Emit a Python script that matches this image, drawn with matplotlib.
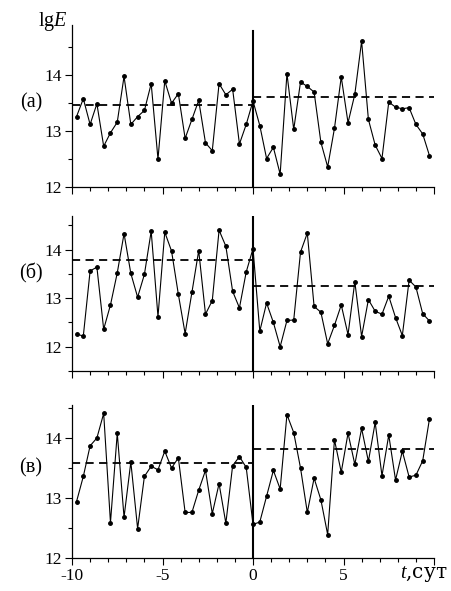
import numpy as np
import matplotlib
matplotlib.use('Agg')
import matplotlib.pyplot as plt
from matplotlib.ticker import MultipleLocator

plt.rcParams['font.family'] = ['Liberation Serif', 'DejaVu Serif']
plt.rcParams['mathtext.fontset'] = 'custom'
plt.rcParams['mathtext.it'] = 'Liberation Serif:italic'
plt.rcParams['mathtext.rm'] = 'Liberation Serif'

# time grid, days (step 9 h)
t = np.arange(-26, 27) * 0.375

# lgE, panel (а)
lgE_a = [13.26, 13.58, 13.12, 13.49, 12.73, 12.97, 13.16, 13.98, 13.12, 13.26,
         13.37, 13.85, 12.50, 13.90, 13.50, 13.67, 12.87, 13.21, 13.55, 12.79,
         12.65, 13.85, 13.65, 13.75, 12.77, 13.12, 13.54,
         13.10, 12.51, 12.71, 12.23, 14.03, 13.03, 13.88, 13.80, 13.70, 12.80,
         12.36, 13.05, 13.97, 13.15, 13.66, 14.61, 13.21, 12.75, 12.51, 13.52,
         13.43, 13.40, 13.42, 13.12, 12.95, 12.56]
# lgE, panel (б)
lgE_b = [12.26, 12.22, 13.56, 13.64, 12.36, 12.86, 13.52, 14.33, 13.51, 13.02,
         13.49, 14.38, 12.62, 14.36, 13.97, 13.08, 12.27, 13.12, 13.98, 12.67,
         12.95, 14.40, 14.07, 13.14, 12.80, 13.54, 14.02,
         12.32, 12.90, 12.50, 12.00, 12.54, 12.55, 13.95, 14.34, 12.83, 12.71,
         12.06, 12.44, 12.86, 12.25, 13.34, 12.21, 12.97, 12.73, 12.67, 13.04,
         12.60, 12.23, 13.37, 13.23, 12.68, 12.53]
# lgE, panel (в)
lgE_c = [12.94, 13.36, 13.87, 14.00, 14.41, 12.59, 14.08, 12.68, 13.60, 12.49,
         13.36, 13.53, 13.47, 13.78, 13.50, 13.67, 12.76, 12.76, 13.13, 13.46,
         12.74, 13.24, 12.58, 13.54, 13.69, 13.51, 12.56,
         12.60, 13.03, 13.46, 13.15, 14.39, 14.09, 13.50, 12.76, 13.33, 12.97,
         12.39, 13.97, 13.43, 14.08, 13.56, 14.16, 13.61, 14.26, 13.37, 14.05,
         13.30, 13.78, 13.35, 13.38, 13.62, 14.32]

# mean levels before / after t = 0
mean_before = [13.47, 13.78, 13.59]
mean_after = [13.61, 13.25, 13.81]

labels = ['(а)', '(б)', '(в)']
ylims = [(12, 14.9), (11.5, 14.7), (12, 14.55)]
rects = [[0.1593, 0.6836, 0.8009, 0.2741],
         [0.1593, 0.3723, 0.8009, 0.2628],
         [0.1593, 0.0558, 0.8009, 0.2589]]

fs_tick = 12.5
fs_lab = 14.5
fig = plt.figure(figsize=(4.52, 5.91), dpi=100)

for i, y in enumerate([lgE_a, lgE_b, lgE_c]):
    ax = fig.add_axes(rects[i])
    ax.plot(t, y, color='black', linewidth=0.8, marker='o', markersize=2.5)
    ax.plot([-10, 0], [mean_before[i]] * 2, color='black', linewidth=1.3,
            linestyle=(0, (4.5, 3)))
    ax.plot([0, 10], [mean_after[i]] * 2, color='black', linewidth=1.3,
            linestyle=(0, (4.5, 3)))
    ax.axvline(0, color='black', linewidth=1.5, ymax=0.96 if i == 0 else 1)
    ax.set_xlim(-10, 10)
    ax.set_ylim(*ylims[i])
    ax.spines['top'].set_visible(False)
    ax.spines['right'].set_visible(False)
    ax.spines['left'].set_linewidth(0.9)
    ax.spines['bottom'].set_linewidth(0.9)
    ax.xaxis.set_major_locator(MultipleLocator(5))
    ax.xaxis.set_minor_locator(MultipleLocator(1))
    ax.yaxis.set_minor_locator(MultipleLocator(0.5))
    ax.tick_params(which='major', length=5, width=0.8, labelsize=fs_tick, pad=2)
    ax.tick_params(which='minor', length=3, width=0.8)
    ax.set_yticks([12, 13, 14])
    ax.set_yticklabels(['12', '13', '14'])
    if i < 2:
        ax.set_xticklabels([])
    else:
        ax.set_xticks([-10, -5, 0, 5, 10])
        ax.set_xticklabels(['-10', '-5', '0', '5', ''])
        ax.text(8.1, -0.105, '$t$,сут', transform=ax.get_xaxis_transform(),
                ha='left', va='center', fontsize=fs_lab,
                family=['DejaVu Serif'])
    ax.text(-0.113, 13.5, labels[i], transform=ax.get_yaxis_transform(),
            ha='center', va='center', fontsize=fs_lab)
    if i == 0:
        ax.text(-0.011, 1.02, 'lg$E$', transform=ax.transAxes,
                ha='right', va='center', fontsize=fs_lab)

fig.savefig('out.png', dpi=100)
